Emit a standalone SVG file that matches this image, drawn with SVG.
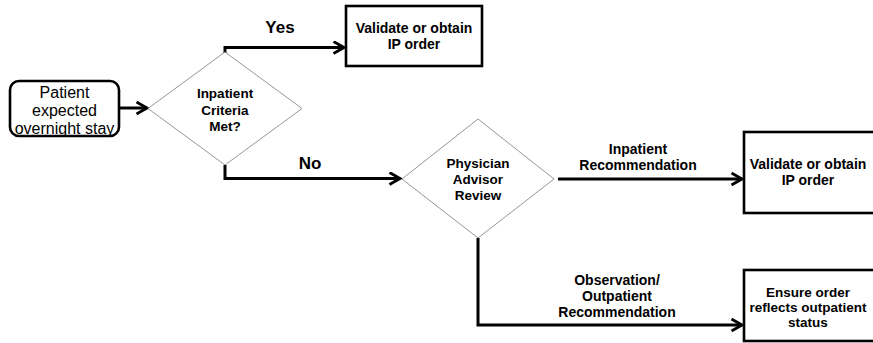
<svg xmlns="http://www.w3.org/2000/svg" width="873" height="343" viewBox="0 0 873 343">
<defs>
<style>
.box{fill:#fff;stroke:#000;stroke-width:2.6}
.dia{fill:#fff;stroke:#8a8a8a;stroke-width:0.9}
.conn{fill:none;stroke:#000;stroke-width:3}
text{font-family:"Liberation Sans",Arial,sans-serif;fill:#000;text-anchor:middle}
.reg{font-size:16px}
.b14{font-size:14px;font-weight:bold}
.b13{font-size:13.5px;font-weight:bold}
.big{font-size:17px;font-weight:bold}
</style>
<marker id="arr" viewBox="0 0 14 14" refX="12" refY="7" markerWidth="14" markerHeight="14" markerUnits="userSpaceOnUse" orient="auto">
<path d="M1.5,1 L12,7 L1.5,13" fill="none" stroke="#000" stroke-width="2.8"/>
</marker>
</defs>
<rect width="873" height="343" fill="#fff"/>
<g id="connectors">
<path class="conn" d="M119,108 H147" marker-end="url(#arr)"/>
<path class="conn" d="M225,53 V47.5 H344" marker-end="url(#arr)"/>
<path class="conn" d="M225,165 V178.5 H400" marker-end="url(#arr)"/>
<path class="conn" d="M558,179 H742" marker-end="url(#arr)"/>
<path class="conn" d="M478,238 V325 H742" marker-end="url(#arr)"/>
<text class="big" x="280" y="33">Yes</text>
<text class="big" x="310" y="169">No</text>
<text class="b14" x="638" y="154">Inpatient</text>
<text class="b14" x="638" y="170">Recommendation</text>
<text class="b14" x="617" y="285">Observation/</text>
<text class="b14" x="617" y="301">Outpatient</text>
<text class="b14" x="617" y="317">Recommendation</text>
</g>
<g id="patient">
<rect class="box" x="10" y="81" width="109" height="55" rx="9"/>
<text class="reg" x="64.5" y="97.5">Patient</text>
<text class="reg" x="64.5" y="115.5">expected</text>
<text class="reg" x="64.5" y="133.5">overnight stay</text>
</g>
<g id="criteria">
<polygon class="dia" points="225,52 302,108.5 225,165 148,108.5"/>
<text class="b13" x="225" y="98">Inpatient</text>
<text class="b13" x="225" y="114.5">Criteria</text>
<text class="b13" x="225" y="131">Met?</text>
</g>
<g id="ip-order-1">
<rect class="box" x="346" y="6" width="136" height="60"/>
<text class="b14" x="414" y="33">Validate or obtain</text>
<text class="b14" x="414" y="49">IP order</text>
</g>
<g id="physician-review">
<polygon class="dia" points="478,119 554,179 478,238 402,179"/>
<text class="b13" x="478" y="168">Physician</text>
<text class="b13" x="478" y="184">Advisor</text>
<text class="b13" x="478" y="200">Review</text>
</g>
<g id="ip-order-2">
<rect class="box" x="744" y="132" width="132" height="81"/>
<text class="b14" x="808" y="168.5">Validate or obtain</text>
<text class="b14" x="808" y="185">IP order</text>
</g>
<g id="outpatient-order">
<rect class="box" x="744" y="270" width="132" height="71"/>
<text class="b13" x="808" y="297">Ensure order</text>
<text class="b13" x="808" y="312">reflects outpatient</text>
<text class="b13" x="808" y="327">status</text>
</g>
</svg>
